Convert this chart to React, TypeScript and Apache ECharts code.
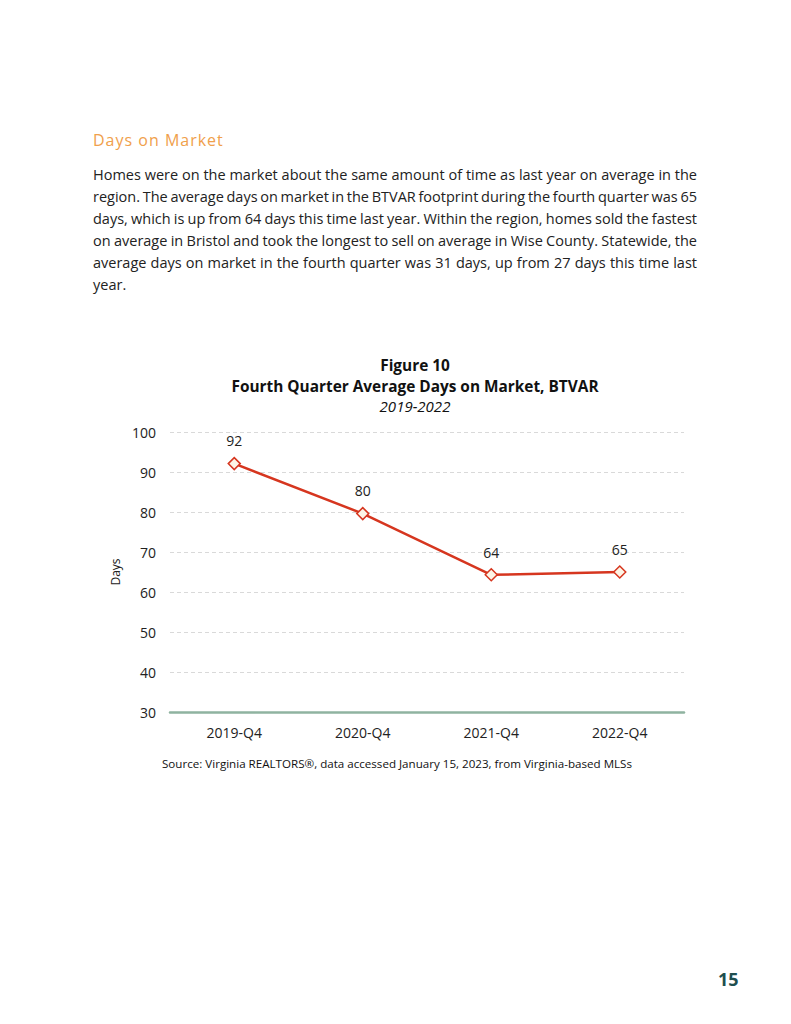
import React, { useEffect, useRef } from "react";
import * as echarts from "echarts";

const categories = ["2019-Q4", "2020-Q4", "2021-Q4", "2022-Q4"];
const daysOnMarket = [92.1, 79.6, 64.3, 65.0];
const yTicks = { min: 30, max: 100, interval: 10 };

const heading = "Days on Market";
const paragraphLines = [
  "Homes were on the market about the same amount of time as last year on average in the",
  "region. The average days on market in the BTVAR footprint during the fourth quarter was 65",
  "days, which is up from 64 days this time last year. Within the region, homes sold the fastest",
  "on average in Bristol and took the longest to sell on average in Wise County. Statewide, the",
  "average days on market in the fourth quarter was 31 days, up from 27 days this time last",
  "year.",
];
const figureTitle = "Figure 10";
const chartTitle = "Fourth Quarter Average Days on Market, BTVAR";
const chartSubtitle = "2019-2022";
const sourceNote = "Source: Virginia REALTORS®, data accessed January 15, 2023, from Virginia-based MLSs";
const pageNumber = "15";

const FONT = "'Open Sans', 'Noto Sans', sans-serif";

function measurer(font: string) {
  const c = document.createElement("canvas");
  const ctx = c.getContext("2d")!;
  ctx.font = font;
  return (s: string) => ctx.measureText(s).width;
}

// Justified paragraph, one text element per word
function paragraphGraphics(left: number, top: number, width: number, lineH: number, size: number) {
  const font = `${size}px ${FONT}`;
  const mw = measurer(font);
  const out: any[] = [];
  paragraphLines.forEach((line, i) => {
    const words = line.split(" ");
    const last = i === paragraphLines.length - 1;
    const total = words.reduce((a, w) => a + mw(w), 0);
    const gap = last || words.length < 2 ? mw(" ") : (width - total) / (words.length - 1);
    let x = left;
    words.forEach((w) => {
      out.push({ type: "text", x, y: top + i * lineH, style: { text: w, font, fill: "#222222" } });
      x += mw(w) + gap;
    });
  });
  return out;
}

function spacedText(text: string, left: number, top: number, size: number, spacing: number, fill: string) {
  const font = `${size}px ${FONT}`;
  const mw = measurer(font);
  const out: any[] = [];
  let x = left;
  for (const ch of text) {
    out.push({ type: "text", x, y: top, style: { text: ch, font, fill } });
    x += mw(ch) + spacing;
  }
  return out;
}

export default function App() {
  const ref = useRef<HTMLDivElement>(null);
  useEffect(() => {
    if (!ref.current) return;
    const chart = echarts.init(ref.current, undefined, { renderer: "svg" });
    const titleStyle = { font: `bold 15.4px ${FONT}`, fill: "#111", textAlign: "center" };
    chart.setOption({
      animation: false,
      backgroundColor: "#ffffff",
      textStyle: { fontFamily: FONT },
      graphic: [
        ...spacedText(heading, 93, 132, 16, 1, "#f0a04b"),
        ...paragraphGraphics(93, 167, 604, 22, 14.5),
        { type: "text", x: 415, y: 358, style: { ...titleStyle, text: figureTitle } },
        { type: "text", x: 415, y: 379, style: { ...titleStyle, text: chartTitle } },
        {
          type: "text",
          x: 415,
          y: 398,
          style: { text: chartSubtitle, font: `italic 15px ${FONT}`, fill: "#111", textAlign: "center" },
        },
        {
          type: "text",
          x: 397,
          y: 757,
          style: { text: sourceNote, font: `11.6px ${FONT}`, fill: "#111", textAlign: "center" },
        },
        {
          type: "text",
          x: 718,
          y: 970,
          style: { text: pageNumber, font: `bold 18px ${FONT}`, fill: "#1f4e4f" },
        },
      ],
      grid: { left: 170, right: 107, top: 432, height: 280 },
      xAxis: {
        type: "category",
        data: categories,
        boundaryGap: true,
        axisLine: { show: true, lineStyle: { color: "#8fb3a0", width: 2.5 } },
        axisTick: { show: false },
        axisLabel: { fontSize: 14, color: "#222", margin: 13, fontFamily: FONT },
      },
      yAxis: {
        type: "value",
        min: yTicks.min,
        max: yTicks.max,
        interval: yTicks.interval,
        name: "Days",
        nameLocation: "middle",
        nameGap: 39,
        nameTextStyle: { fontSize: 12, color: "#222", fontFamily: FONT },
        axisLine: { show: false },
        axisTick: { show: false },
        axisLabel: { fontSize: 14, color: "#222", margin: 14, fontFamily: FONT },
        splitLine: { lineStyle: { color: "#d9d9d9", type: [4, 3], width: 1 } },
      },
      series: [
        {
          type: "line",
          data: daysOnMarket,
          lineStyle: { color: "#d6361f", width: 2.5 },
          symbol: "diamond",
          symbolSize: 12,
          itemStyle: { color: "#fdf5e6", borderColor: "#d6361f", borderWidth: 1.5 },
          label: {
            show: true,
            position: "top",
            distance: 9,
            fontSize: 14,
            color: "#222",
            fontFamily: FONT,
            formatter: (p: any) => String(Math.round(p.value)),
          },
        },
      ],
    });
    return () => chart.dispose();
  }, []);
  return (
    <div
      ref={ref}
      style={{ position: "absolute", left: 0, top: 0, width: 791, height: 1024 }}
    />
  );
}
